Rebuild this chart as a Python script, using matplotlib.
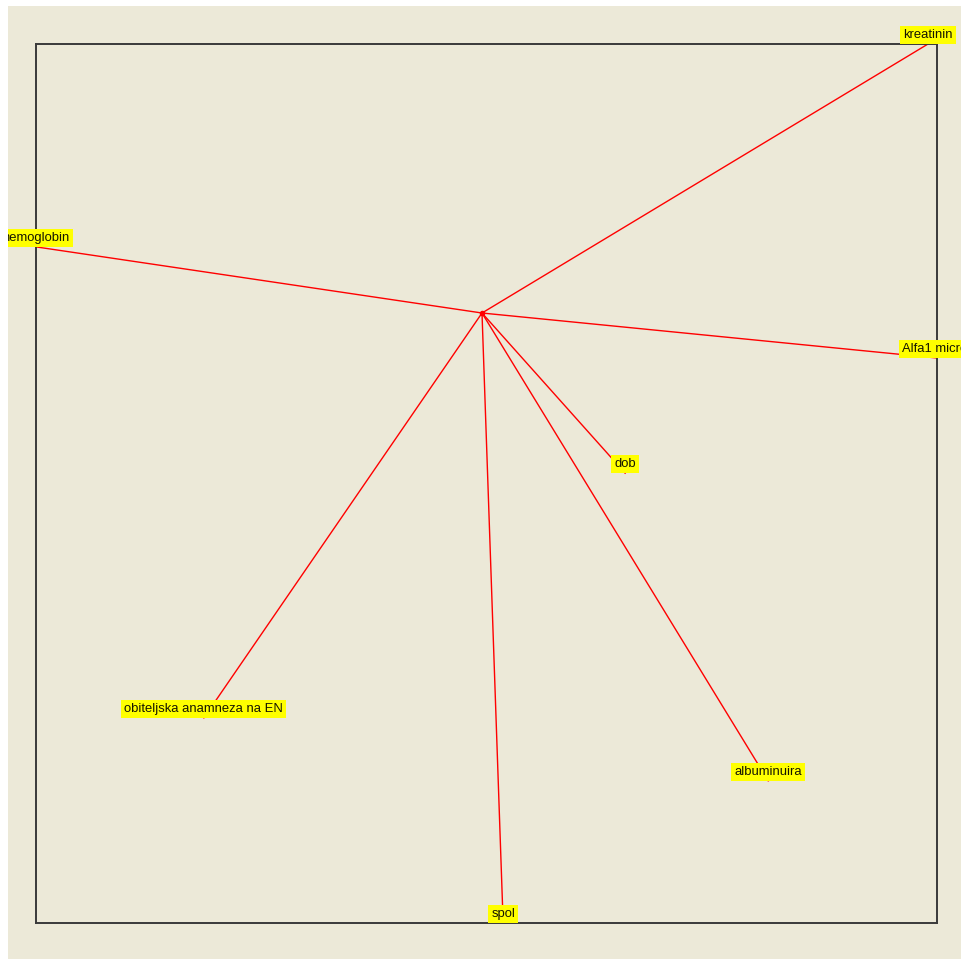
import matplotlib
matplotlib.use("Agg")
import matplotlib.pyplot as plt

# biplot loadings (variable vectors from the origin)
labels = ["kreatinin", "hemoglobin", "Alfa1 microglobulin", "dob",
          "albuminuira", "obiteljska anamneza na EN", "spol"]
load_x = [0.991, -0.991, 1.011, 0.318, 0.636, -0.618, 0.047]
load_y = [0.598, 0.147, -0.100, -0.356, -1.040, -0.900, -1.356]

W, H = 962, 959
fig = plt.figure(figsize=(W / 100, H / 100), dpi=100, facecolor="white")

# beige canvas
bg = fig.add_axes([8 / W, 0, 1 - 8 / W, 1 - 6 / H])
bg.set_facecolor("#ECE9D8")
bg.set_xticks([])
bg.set_yticks([])
for s in bg.spines.values():
    s.set_visible(False)

# plot box
ax = fig.add_axes([36 / W, 1 - 923 / H, (937 - 36) / W, (923 - 44) / H])
ax.patch.set_alpha(0)
ax.set_xticks([])
ax.set_yticks([])
for s in ax.spines.values():
    s.set_color("#3a3a3a")
    s.set_linewidth(1.4)
ax.set_xlim(min(load_x), max(load_x))
ax.set_ylim(min(load_y), max(load_y))

for lab, x, y in zip(labels, load_x, load_y):
    ax.plot([0, x], [0, y], color="#ff0000", lw=1.0, zorder=2)
    ha = "center"
    dx = 0
    if x >= max(load_x):
        # label runs off the right side of the canvas
        ha = "left"
        dx = -25
    t = ax.annotate(lab, (x, y), xytext=(dx, 2.2), textcoords="offset points",
                    ha=ha, va="bottom", fontsize=9.4, family="Liberation Sans",
                    color="#151500", zorder=5,
                    bbox=dict(boxstyle="square,pad=0.24", fc="#ffff00", ec="none"),
                    annotation_clip=False)
    t.set_clip_on(True)
    t.set_clip_box(bg.bbox)

ax.plot([0], [0], marker="o", ms=3, color="#ff0000", zorder=3, clip_on=False)

fig.savefig("out.png", dpi=100, facecolor="white")
